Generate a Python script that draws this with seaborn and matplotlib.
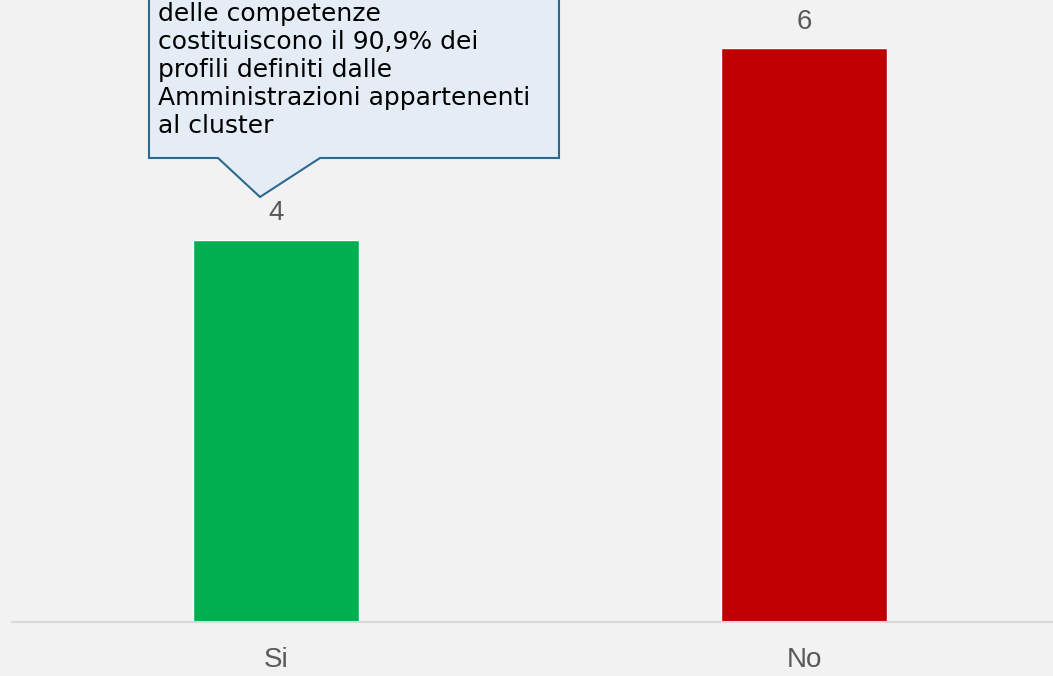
import matplotlib
matplotlib.use("Agg")
import matplotlib.pyplot as plt
from matplotlib.patches import Polygon
import seaborn as sns
import pandas as pd

# data
categories = ["Si", "No"]
values = [4, 6]
bar_colors = ["#00B050", "#C00000"]
callout_lines = [
    "delle competenze",
    "costituiscono il 90,9% dei",
    "profili definiti dalle",
    "Amministrazioni appartenenti",
    "al cluster",
]

W, H = 1053, 676
bg = "#F2F2F2"
step = 528  # px between category centres

sns.set_theme(style="white")
plt.rcParams["font.family"] = ["Liberation Sans", "DejaVu Sans"]

fig = plt.figure(figsize=(W / 100, H / 100), dpi=100, facecolor=bg)
ax = fig.add_axes([0, 54 / H, 1, 1 - 54 / H])
ax.set_facecolor(bg)

df = pd.DataFrame({"risposta": categories, "n": values})
sns.barplot(data=df, x="risposta", y="n", hue="risposta", palette=bar_colors,
            width=0.314, legend=False, ax=ax, saturation=1)

x0, x1 = -276 / step, (W - 276) / step
ax.set_xlim(x0, x1)
ax.set_ylim(0, 622 / 95.6)

for c in ax.containers:
    ax.bar_label(c, fmt="%d", padding=10, fontsize=20, color="#595959")

ax.set_xlabel("")
ax.set_ylabel("")
ax.set_yticks([])
ax.tick_params(axis="x", length=0, pad=18, labelsize=20, colors="#595959")
for s in ["top", "right", "left"]:
    ax.spines[s].set_visible(False)
ax.spines["bottom"].set_color("#D9D9D9")
ax.spines["bottom"].set_linewidth(1.5)
# axis line starts a little in from the left edge
ax.spines["bottom"].set_bounds(x0 + 12 / step, x1)

# callout box with pointer to the "Si" label (figure pixel coords, y from top)
pts = [(149, -5), (559, -5), (559, 158), (320, 158), (260, 197), (218, 158), (149, 158)]
pts = [(x / W, 1 - y / H) for x, y in pts]
fig.add_artist(Polygon(pts, closed=True, transform=fig.transFigure,
                       facecolor="#E4ECF5", edgecolor="#2B6A8E", linewidth=1.5, clip_on=False))

for i, line in enumerate(callout_lines):
    fig.text(158 / W, 1 - (21 + 28 * i) / H, line, fontsize=18, color="black",
             va="baseline", ha="left", family=["DejaVu Sans"])

fig.savefig("out.png", dpi=100, facecolor=bg)
